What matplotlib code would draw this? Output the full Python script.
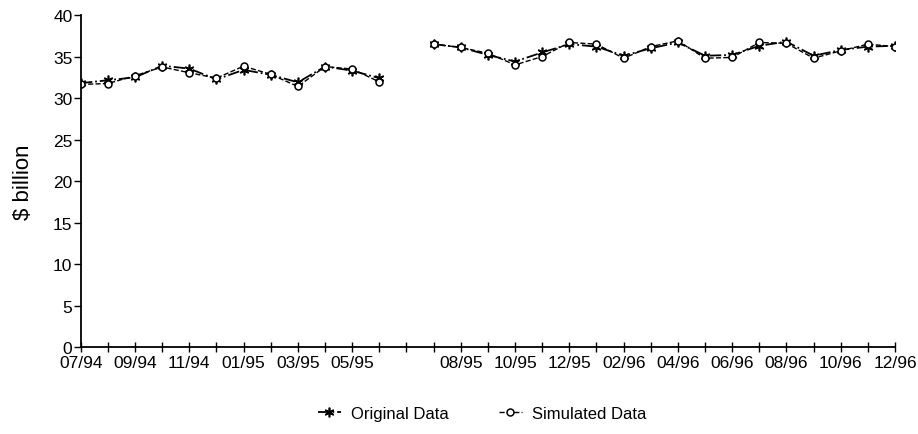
import numpy as np
import matplotlib.pyplot as plt

plt.rcParams['font.family'] = ['Liberation Sans', 'DejaVu Sans']

# monthly positions; slot 12 is left empty between the two periods
pos1 = list(range(0, 12))      # 07/94 .. 06/95
pos2 = list(range(13, 31))     # 07/95 .. 12/96

orig1 = [31.8, 32.15, 32.5, 33.9, 33.55, 32.25, 33.4, 32.8, 31.9, 33.8, 33.3, 32.4]
sim1 = [31.65, 31.75, 32.7, 33.75, 33.05, 32.4, 33.85, 32.85, 31.4, 33.8, 33.5, 31.95]

orig2 = [36.5, 36.1, 35.2, 34.4, 35.5, 36.5, 36.2, 35.1, 36.0, 36.7, 35.1, 35.2,
         36.3, 36.8, 35.1, 35.8, 36.2, 36.3]
sim2 = [36.5, 36.1, 35.4, 34.0, 35.0, 36.7, 36.5, 34.8, 36.2, 36.9, 34.8, 34.9,
        36.7, 36.6, 34.8, 35.7, 36.5, 36.2]

tick_pos = [0, 2, 4, 6, 8, 10, 14, 16, 18, 20, 22, 24, 26, 28, 30]
tick_labels = ['07/94', '09/94', '11/94', '01/95', '03/95', '05/95', '08/95', '10/95',
               '12/95', '02/96', '04/96', '06/96', '08/96', '10/96', '12/96']

fig = plt.figure(figsize=(9.18, 4.35), dpi=100)
ax = fig.add_axes([0.088, 0.2, 0.887, 0.763])

for i, (p, o, s) in enumerate([(pos1, orig1, sim1), (pos2, orig2, sim2)]):
    ax.plot(p, o, color='black', linestyle='-.', linewidth=1.3, marker=(6, 2, 0),
            markersize=7, markeredgewidth=1.2, label='Original Data' if i == 0 else None)
    ax.plot(p, s, color='black', linestyle='--', linewidth=1.0, marker='o',
            markersize=5, markerfacecolor='white', markeredgewidth=1.1,
            label='Simulated Data' if i == 0 else None)

ax.set_xlim(0, 30)
ax.set_ylim(0, 40)
ax.set_yticks(np.arange(0, 41, 5))
ax.set_xticks(range(31), minor=True)
ax.set_xticks(tick_pos)
ax.set_xticklabels(tick_labels)
ax.tick_params(axis='x', which='both', direction='inout', length=7, width=1, labelsize=12.5, pad=2)
ax.tick_params(axis='y', direction='out', length=5, width=1, labelsize=12.5, pad=1)
ax.spines['top'].set_visible(False)
ax.spines['right'].set_visible(False)
ax.spines['left'].set_linewidth(1.3)
ax.spines['bottom'].set_linewidth(1.3)
ax.set_ylabel('$ billion', fontsize=16, labelpad=14)

fig.legend(loc='lower center', bbox_to_anchor=(0.525, -0.005), ncol=2, frameon=False,
           fontsize=12, handlelength=1.4, handletextpad=0.6, columnspacing=3.0)

fig.savefig('out.png', dpi=100)
